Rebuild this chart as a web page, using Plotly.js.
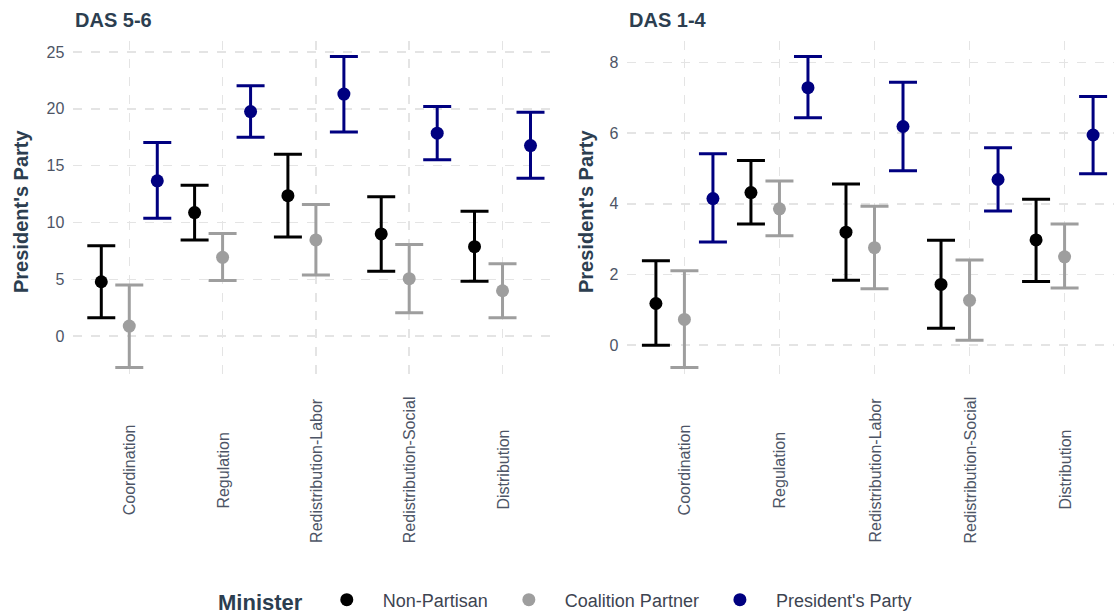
<!DOCTYPE html>
<html>
<head>
<meta charset="utf-8">
<script src="https://cdn.plot.ly/plotly-3.0.1.min.js"></script>
<style>
  html, body { margin: 0; padding: 0; background: #ffffff; }
  #chart { width: 1114px; height: 614px; }
</style>
</head>
<body>
<div id="chart"></div>
<script>
// ---------- data ----------
const categories = ['Coordination', 'Regulation', 'Redistribution-Labor', 'Redistribution-Social', 'Distribution'];
const groups = ['Non-Partisan', 'Coalition Partner', "President's Party"];
const panelTitles = ['DAS 5-6', 'DAS 1-4'];
const yTitle = "President's Party";
const legendTitle = 'Minister';

// DAS 5-6 (left panel)
const np56_est = [4.78, 10.87, 12.36, 8.99, 7.87];
const np56_lo  = [1.61, 8.46, 8.72, 5.70, 4.82];
const np56_hi  = [7.96, 13.27, 16.00, 12.27, 10.98];
const cp56_est = [0.88, 6.93, 8.46, 5.05, 3.99];
const cp56_lo  = [-2.76, 4.90, 5.37, 2.06, 1.61];
const cp56_hi  = [4.49, 9.02, 11.57, 8.05, 6.37];
const pp56_est = [13.66, 19.76, 21.30, 17.86, 16.77];
const pp56_lo  = [10.37, 17.50, 17.95, 15.51, 13.89];
const pp56_hi  = [17.03, 22.03, 24.60, 20.20, 19.71];

// DAS 1-4 (right panel)
const np14_est = [1.18, 4.32, 3.20, 1.72, 2.98];
const np14_lo  = [0.00, 3.43, 1.84, 0.48, 1.80];
const np14_hi  = [2.39, 5.23, 4.56, 2.97, 4.13];
const cp14_est = [0.73, 3.86, 2.76, 1.27, 2.50];
const cp14_lo  = [-0.63, 3.10, 1.60, 0.14, 1.62];
const cp14_hi  = [2.11, 4.65, 3.93, 2.41, 3.43];
const pp14_est = [4.15, 7.29, 6.19, 4.69, 5.95];
const pp14_lo  = [2.92, 6.44, 4.94, 3.80, 4.85];
const pp14_hi  = [5.42, 8.17, 7.44, 5.59, 7.04];

// ---------- styling ----------
const colors = ['#000000', '#9e9e9e', '#000080'];
const dodge = [-0.3, 0, 0.3];
const FONT = '"Liberation Sans", Arial, Helvetica, sans-serif';
const titleColor = '#2c3e50';
const tickColor = '#4d5566';

const panels = [
  { xa: 'x', ya: 'y', est: [np56_est, cp56_est, pp56_est], lo: [np56_lo, cp56_lo, pp56_lo], hi: [np56_hi, cp56_hi, pp56_hi] },
  { xa: 'x2', ya: 'y2', est: [np14_est, cp14_est, pp14_est], lo: [np14_lo, cp14_lo, pp14_lo], hi: [np14_hi, cp14_hi, pp14_hi] }
];

const traces = [];
panels.forEach((p, pi) => {
  groups.forEach((g, gi) => {
    const est = p.est[gi], lo = p.lo[gi], hi = p.hi[gi];
    traces.push({
      type: 'scatter',
      mode: 'markers',
      name: g,
      legendgroup: g,
      showlegend: pi === 0,
      xaxis: p.xa,
      yaxis: p.ya,
      x: categories.map((c, i) => i + dodge[gi]),
      y: est,
      marker: { color: colors[gi], size: 13 },
      error_y: {
        type: 'data',
        symmetric: false,
        array: est.map((v, i) => hi[i] - v),
        arrayminus: est.map((v, i) => v - lo[i]),
        color: colors[gi],
        thickness: 3,
        width: 14
      },
      hoverinfo: 'x+y'
    });
  });
});

const W = 1114, H = 614;
const yDom = [1 - 383 / H, 1 - 41 / H];

function xAxis(domain, range) {
  return {
    domain: domain, range: range,
    tickmode: 'array', tickvals: categories.map((c, i) => i), ticktext: categories,
    showticklabels: false, ticks: '',
    showgrid: true, gridcolor: '#e4e4e4', gridwidth: 1.5, griddash: 'dash',
    zeroline: false, showline: false, fixedrange: true
  };
}
function yAxis(range, dtick, anchor) {
  return {
    domain: yDom, range: range, anchor: anchor,
    tickmode: 'linear', tick0: 0, dtick: dtick,
    ticks: '', ticklabelstandoff: 8,
    tickfont: { family: FONT, size: 16, color: tickColor },
    showgrid: true, gridcolor: '#e4e4e4', gridwidth: 1.5, griddash: 'dash',
    zeroline: false, showline: false, fixedrange: true
  };
}

const annotations = [];
const xLeft = [73.3 / W, 627.4 / W];
const yTitleX = [21 / W, 586 / W];
['x', 'x2'].forEach((xr, pi) => {
  categories.forEach((c, i) => {
    annotations.push({
      xref: xr, yref: 'paper', x: i, y: 1 - 470 / H,
      text: c, showarrow: false, textangle: -90,
      xanchor: 'center', yanchor: 'middle',
      font: { family: FONT, size: 16, color: tickColor }
    });
  });
  annotations.push({
    xref: 'paper', yref: 'paper', x: xLeft[pi], y: 1 - 20 / H,
    text: '<b>' + panelTitles[pi] + '</b>', showarrow: false,
    xanchor: 'left', yanchor: 'middle',
    font: { family: FONT, size: 20, color: titleColor }
  });
  annotations.push({
    xref: 'paper', yref: 'paper', x: yTitleX[pi], y: 1 - 212 / H,
    text: '<b>' + yTitle + '</b>', showarrow: false, textangle: -90,
    xanchor: 'center', yanchor: 'middle',
    font: { family: FONT, size: 20, color: titleColor }
  });
});

const layout = {
  width: W, height: H,
  margin: { l: 0, r: 0, t: 0, b: 0, autoexpand: false },
  paper_bgcolor: '#ffffff', plot_bgcolor: '#ffffff',
  font: { family: FONT, color: tickColor },
  xaxis: xAxis([73.3 / W, 558.5 / W], [-0.6, 4.6]),
  xaxis2: xAxis([627.4 / W, 1], [-0.6, 4.52]),
  yaxis: yAxis([-4.13, 25.97], 5, 'x'),
  yaxis2: yAxis([-1.07, 8.61], 2, 'x2'),
  showlegend: true,
  legend: {
    orientation: 'h',
    x: 216 / W, xanchor: 'left',
    y: 1 - 601 / H, yanchor: 'middle',
    title: { text: '<b>' + legendTitle + '</b>', side: 'left', font: { family: FONT, size: 22, color: titleColor } },
    font: { family: FONT, size: 18, color: '#3d4451' },
    itemwidth: 62,
    bgcolor: 'rgba(0,0,0,0)'
  },
  annotations: annotations
};

Plotly.newPlot('chart', traces, layout, { displayModeBar: false, staticPlot: true });
</script>
</body>
</html>
